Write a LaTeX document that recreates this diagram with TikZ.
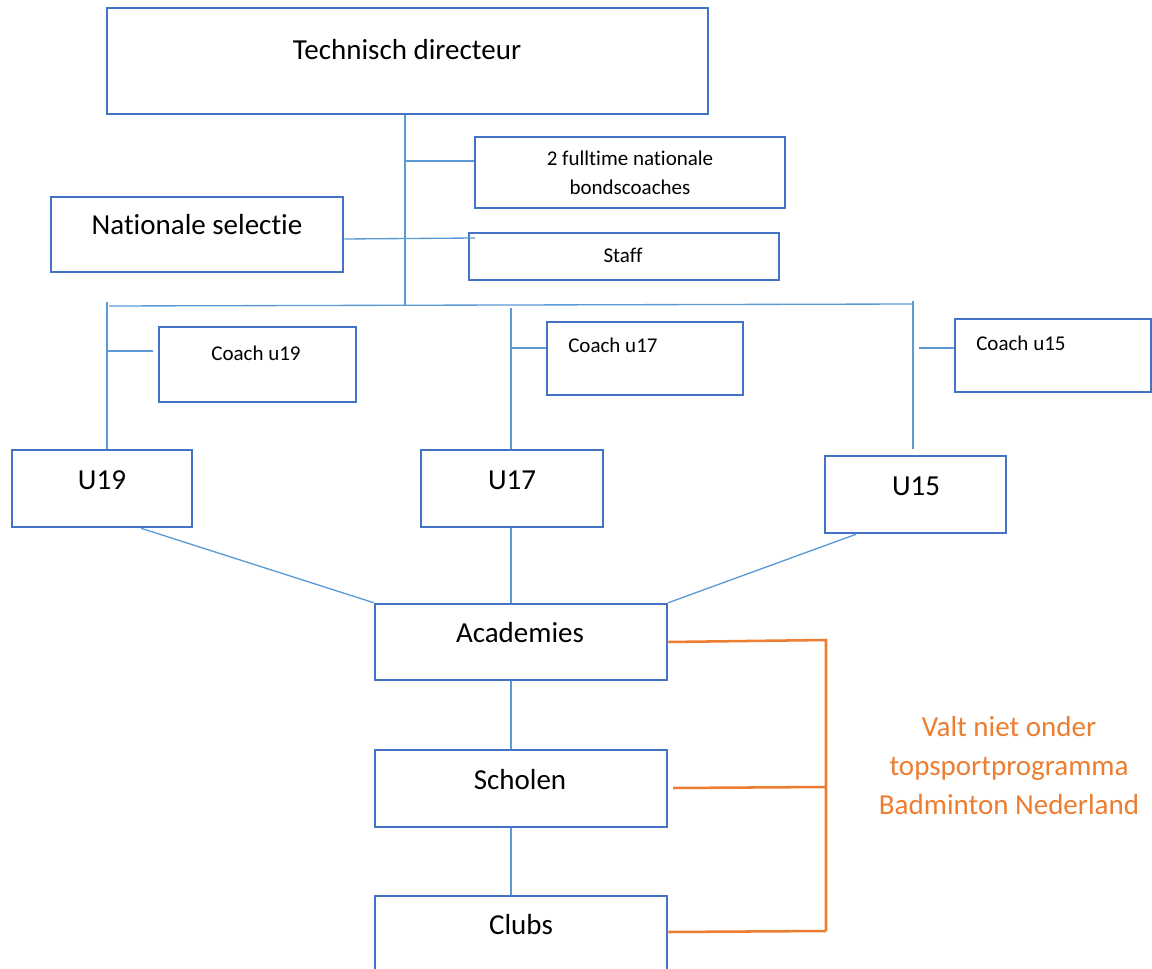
\documentclass[tikz,border=0pt]{standalone}
\usepackage{fontspec}
\setmainfont{Carlito}[Ligatures={NoCommon}]
\usetikzlibrary{fit}
\definecolor{boxblue}{HTML}{4472C4}
\definecolor{lineblue}{HTML}{5B9BD5}
\definecolor{accorange}{HTML}{ED7D31}
\tikzset{
  orgbox/.style={draw=boxblue, line width=1.9pt, inner sep=0pt, rectangle, fill=none},
  conn/.style={draw=lineblue, line width=1pt},
  bracket/.style={draw=accorange, line width=1.9pt},
  bigtxt/.style={font=\fontsize{21.75}{26}\selectfont, anchor=base, inner sep=0pt},
  smalltxt/.style={font=\fontsize{15.75}{21.75}\selectfont, anchor=base, inner sep=0pt},
  notetxt/.style={font=\fontsize{21.75}{28.9}\selectfont, text=accorange, align=center, anchor=base, inner sep=0pt},
}
\begin{document}
\begin{tikzpicture}[x=0.75pt, y=-0.75pt]
\useasboundingbox (0,0) rectangle (1152,969);
\fill[white] (0,0) rectangle (1152,969);
\begin{scope}
\clip (0,0) rectangle (1152,969);
% boxes
\node[orgbox, fit={(107,8) (708,114)}] (td) {};
\node[orgbox, fit={(475,137) (785,208)}] (bond) {};
\node[orgbox, fit={(51,197) (343,272)}] (nat) {};
\node[orgbox, fit={(469,233) (779,280)}] (staff) {};
\node[orgbox, fit={(159,327) (356,402)}] (c19) {};
\node[orgbox, fit={(547,322) (743,395)}] (c17) {};
\node[orgbox, fit={(955,319) (1151,392)}] (c15) {};
\node[orgbox, fit={(12,450) (192,527)}] (u19) {};
\node[orgbox, fit={(421,450) (603,527)}] (u17) {};
\node[orgbox, fit={(825,456) (1006,533)}] (u15) {};
\node[orgbox, fit={(375,604) (667,680)}] (acad) {};
\node[orgbox, fit={(375,750) (667,827)}] (schol) {};
\node[orgbox, fit={(375,896) (667,1000)}] (clubs) {};

% texts (multi-line nodes: base = last line)
\node[bigtxt] (ttd) at (407,60) {Technisch directeur};
\node[smalltxt, align=center] (tbond) at (630,195) {2 fulltime nationale\\bondscoaches};
\node[bigtxt] (tnat) at (197,235) {Nationale selectie};
\node[smalltxt] (tstaff) at (623,263) {Staff};
\node[smalltxt] (tc19) at (256,361) {Coach u19};
\node[smalltxt, anchor=base west] (tc17) at (568,353) {Coach u17};
\node[smalltxt, anchor=base west] (tc15) at (976,351) {Coach u15};
\node[bigtxt] (tu19) at (102,489) {U19};
\node[bigtxt] (tu17) at (512,489) {U17};
\node[bigtxt] (tu15) at (916,495) {U15};
\node[bigtxt] (tacad) at (520,642) {Academies};
\node[bigtxt] (tschol) at (520,789) {Scholen};
\node[bigtxt] (tclubs) at (521,934) {Clubs};
\node[notetxt] (note) at (1009,814) {Valt niet onder\\topsportprogramma\\Badminton Nederland};

% junction coordinates
\coordinate (spine) at (405,305);
\coordinate (busL) at (107,305);
\coordinate (busM) at (511,305);
\coordinate (busR) at (913,305);
\coordinate (natend) at (475,238);
\coordinate (u15end) at (913,449);
\coordinate (br1) at (826,640);
\coordinate (br2) at (826,931);
\coordinate (brmid) at (826,787);

% connectors
\draw[conn] (td.south -| spine) -- (spine);
\draw[conn] (spine |- 0,161) -- (bond.west |- 0,161);
\draw[conn] (nat.east |- 0,239) -- (natend);
\draw[conn] (109,306) -- (914,304);
\draw[conn] (busL |- 0,302) -- (busL |- u19.north);
\draw[conn] (busM |- 0,308) -- (busM |- u17.north);
\draw[conn] (busR |- 0,301) -- (u15end);
\draw[conn] (busL |- 0,351) -- (153,351);
\draw[conn] (busM |- 0,348) -- (c17.west |- 0,348);
\draw[conn] (919,348) -- (c15.west |- 0,348);
\draw[conn] (u19.south -| 141,0) -- (acad.north west);
\draw[conn] (u17.south -| busM) -- (acad.north -| busM);
\draw[conn] (u15.south -| 856,0) -- (acad.north east);
\draw[conn] (acad.south -| busM) -- (schol.north -| busM);
\draw[conn] (schol.south -| busM) -- (clubs.north -| busM);

% orange bracket
\draw[bracket] (acad.east |- 0,642) -- (br1) -- (br2);
\draw[bracket] (673,788) -- (brmid);
\draw[bracket] (clubs.east |- 0,932) -- (br2);
\end{scope}
\end{tikzpicture}
\end{document}
